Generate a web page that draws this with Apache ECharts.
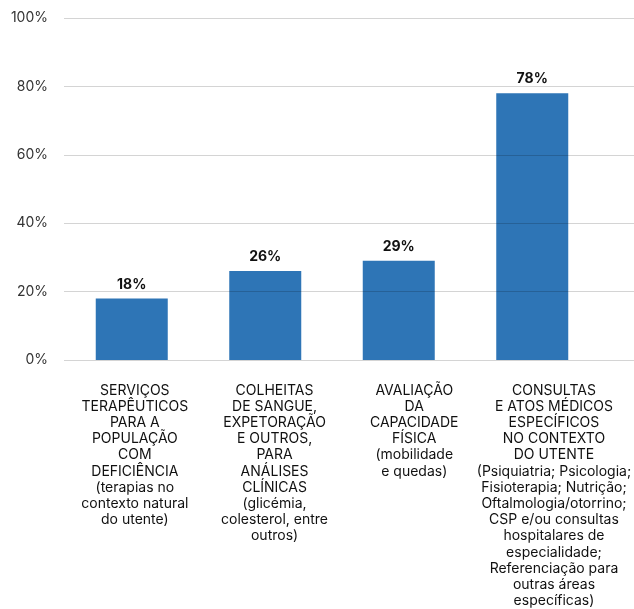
<!DOCTYPE html>
<html>
<head>
<meta charset="utf-8">
<script src="https://cdn.jsdelivr.net/npm/echarts@6/dist/echarts.min.js"></script>
<style>html,body{margin:0;padding:0;background:#fff}#c{width:634px;height:609px}</style>
</head>
<body>
<div id="c"></div>
<script>
var categories = [
  "SERVIÇOS\nTERAPÊUTICOS\nPARA A\nPOPULAÇÃO\nCOM\nDEFICIÊNCIA\n(terapias no\ncontexto natural\ndo utente)",
  "COLHEITAS\nDE SANGUE,\nEXPETORAÇÃO\nE OUTROS,\nPARA\nANÁLISES\nCLÍNICAS\n(glicémia,\ncolesterol, entre\noutros)",
  "AVALIAÇÃO\nDA\nCAPACIDADE\nFÍSICA\n(mobilidade\ne quedas)",
  "CONSULTAS\nE ATOS MÉDICOS\nESPECÍFICOS\nNO CONTEXTO\nDO UTENTE\n(Psiquiatria; Psicologia;\nFisioterapia; Nutrição;\nOftalmologia/otorrino;\nCSP e/ou consultas\nhospitalares de\nespecialidade;\nReferenciação para\noutras áreas\nespecíficas)"
];
var values = [18, 26, 29, 78];
var yMin = 0, yMax = 100, yStep = 20;

var font = "Inter, 'Noto Sans', sans-serif";
var chart = echarts.init(document.getElementById('c'));
chart.setOption({
  animation: false,
  grid: [
    {left: 65, right: 35, top: 18, bottom: 249},
    {left: 64, right: 0, top: 18, bottom: 249},
    {left: 65, right: 9, top: 18, bottom: 249}
  ],
  xAxis: [
    {type: 'category', gridIndex: 0, data: categories,
     axisLine: {show: false}, axisTick: {show: false}, axisLabel: {show: false}},
    {type: 'value', gridIndex: 1, show: false},
    {type: 'category', gridIndex: 2, data: categories,
     axisLine: {show: false}, axisTick: {show: false},
     axisLabel: {interval: 0, margin: 28, fontFamily: font, fontSize: 14, lineHeight: 16.2, color: '#111', align: 'center'}}
  ],
  yAxis: [
    {type: 'value', gridIndex: 0, min: yMin, max: yMax, interval: yStep,
     axisLine: {show: false}, axisTick: {show: false}, splitLine: {show: false},
     axisLabel: {show: false}},
    {type: 'value', gridIndex: 1, min: yMin, max: yMax, interval: yStep, z: 5,
     axisLine: {show: false}, axisTick: {show: false},
     splitLine: {show: true, lineStyle: {color: 'rgba(0,0,0,0.17)', width: 1.2}},
     axisLabel: {formatter: '{value}%', margin: 16, fontFamily: font, fontSize: 14, color: '#333'}},
    {type: 'value', gridIndex: 2, min: yMin, max: yMax, interval: yStep, show: false}
  ],
  series: [{
    type: 'bar', xAxisIndex: 0, yAxisIndex: 0, data: values, barWidth: 72,
    itemStyle: {color: '#2E75B6'},
    label: {show: true, position: 'top', distance: 7, formatter: '{c}%', fontFamily: font, fontSize: 14, fontWeight: 'bold', color: '#111'}
  }]
});
</script>
</body>
</html>
